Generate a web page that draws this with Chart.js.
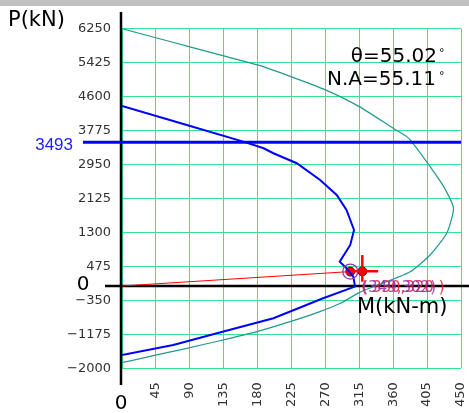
<!DOCTYPE html>
<html><head><meta charset="utf-8">
<script src="https://cdn.jsdelivr.net/npm/chart.js@4"></script>
<style>
html,body{margin:0;padding:0;background:#fff;overflow:hidden}
#wrap{position:absolute;left:0;top:0;width:469px;height:413px}
#band{position:absolute;left:0;top:0;width:469px;height:6px;background:#c0c0c0}
</style></head><body>
<div id="wrap"><canvas id="c" width="469" height="413"></canvas></div>
<div id="band"></div>
<script>
// ---- data ----
const xTickValues = [0,45,90,135,180,225,270,315,360,405,450];
const yTickValues = [-2000,-1175,-350,475,1300,2125,2950,3775,4600,5425,6250];
const nominalM = [0,45,90,135,180,225,270,315,360,378,385,409,427,440,431,409,382,336,316,290,260,223,179,130,86,40,0];
const nominalP = [6250,6030,5810,5590,5370,5080,4763,4357,3832,3628,3492,2900,2413,1888,1281,753,340,0,-150,-420,-640,-867,-1110,-1330,-1514,-1700,-1864];
const designM = [0,86,161,188,201,232,263,285,298,308,303,289,298,307,309,309,267,201,126,68,0];
const designP = [4374,3912,3506,3346,3225,2982,2576,2211,1847,1361,996,590,430,226,24,-17,-299,-785,-1150,-1434,-1677];
const loadLineM = [0,303];
const loadLineP = [0,350];
const pointM = [303,319];
const pointP = [350,355];
const crossVM = [319,319];
const crossVP = [100,750];
const crossHM = [306,340];
const crossHP = [355,355];
const maxAxial = 3493;
const thetaText = 'θ=55.02';
const naText = 'N.A=55.11';
const labelPurple = '(349,302)';
const labelRed = '( 330,320 )';

const zip = (a,b)=>a.map((v,i)=>({x:v,y:b[i]}));
const FONT = '"DejaVu Sans", sans-serif';
const GRID = '#33e68c';

const overlay = {
  id:'overlay',
  beforeDatasetsDraw(chart){
    const {ctx, chartArea:a, scales:{x,y}} = chart;
    ctx.save();
    ctx.strokeStyle = '#000';
    ctx.lineWidth = 2.5;
    const x0 = x.getPixelForValue(0) - 1;
    ctx.beginPath(); ctx.moveTo(x0, 12); ctx.lineTo(x0, 385); ctx.stroke();
    const y0 = y.getPixelForValue(0);
    ctx.beginPath(); ctx.moveTo(105, y0); ctx.lineTo(469, y0); ctx.stroke();
    ctx.restore();
  },
  afterDatasetsDraw(chart){
    const {ctx, chartArea:a, scales:{x,y}} = chart;
    ctx.save();
    const yb = y.getPixelForValue(maxAxial);
    ctx.strokeStyle = '#0000ff'; ctx.lineWidth = 3;
    ctx.beginPath(); ctx.moveTo(a.left - 39, yb); ctx.lineTo(a.right, yb); ctx.stroke();
    ctx.fillStyle = '#2020ff'; ctx.font = '17px "Liberation Sans", Arial, sans-serif';
    ctx.textAlign = 'right'; ctx.textBaseline = 'middle';
    ctx.fillText(String(maxAxial), 73, yb + 3);

    const px = x.getPixelForValue(pointM[0]), py = y.getPixelForValue(pointP[0]);
    ctx.strokeStyle = '#9933aa'; ctx.lineWidth = 1.3;
    ctx.beginPath(); ctx.arc(px, py, 7.5, 0, Math.PI*2); ctx.stroke();

    ctx.font = '15px ' + FONT; ctx.textAlign = 'left'; ctx.textBaseline = 'alphabetic';
    ctx.fillStyle = 'rgba(230,30,60,0.9)';
    ctx.fillText(labelRed, px + 11, py + 20);
    ctx.fillStyle = 'rgba(150,40,170,0.85)';
    ctx.fillText(labelPurple, px + 12, py + 20);

    ctx.fillStyle = '#000';
    ctx.font = '21px ' + FONT;
    ctx.textAlign = 'left';
    ctx.fillText('P(kN)', 8, 26);
    ctx.fillText('M(kN-m)', 357, 313);
    ctx.font = '20px ' + FONT;
    ctx.textAlign = 'center'; ctx.textBaseline = 'middle';
    ctx.fillText('0', 83, y.getPixelForValue(0) - 1);
    ctx.fillText('0', x.getPixelForValue(0) - 1, 404);
    ctx.textAlign = 'right'; ctx.textBaseline = 'alphabetic';
    ctx.font = '20px ' + FONT;
    ctx.fillText(thetaText, 437, 62);
    ctx.fillText(naText, 436, 85);
    ctx.font = '11px ' + FONT; ctx.textAlign = 'left';
    ctx.fillText('°', 439, 56);
    ctx.fillText('°', 439, 79);
    ctx.restore();
  }
};

new Chart(document.getElementById('c'), {
  type:'scatter',
  data:{datasets:[
    {data:zip(nominalM,nominalP), showLine:true, borderColor:'#1f9a8c', borderWidth:1.2, pointRadius:0, tension:0.2},
    {data:zip(designM,designP), showLine:true, borderColor:'#0000ff', borderWidth:2, pointRadius:0, tension:0},
    {data:zip(loadLineM,loadLineP), showLine:true, borderColor:'#ff0000', borderWidth:1, pointRadius:0},
    {data:zip(crossVM,crossVP), showLine:true, borderColor:'#ff0000', borderWidth:2.5, pointRadius:0},
    {data:zip(crossHM,crossHP), showLine:true, borderColor:'#ff0000', borderWidth:2.5, pointRadius:0},
    {data:zip(pointM,pointP), showLine:false, pointRadius:4.5, pointBackgroundColor:'#ff0000', pointBorderColor:'#600000', pointBorderWidth:1}
  ]},
  options:{
    responsive:false, animation:false, devicePixelRatio:1,
    layout:{padding:{top:28.7, right:8, left:0, bottom:0}},
    plugins:{legend:{display:false}, tooltip:{enabled:false}},
    scales:{
      x:{type:'linear', min:0, max:450,
        afterBuildTicks(s){ s.ticks = xTickValues.map(v=>({value:v})); },
        afterFit(s){ s.height = 413 - 368.3; s.paddingLeft = 0; s.paddingRight = 0; },
        grid:{color:GRID, lineWidth:1, drawTicks:false},
        border:{display:false},
        ticks:{autoSkip:false, minRotation:90, maxRotation:90, padding:14, color:'#333', font:{family:FONT, size:13},
          callback:v=> v===0 ? '' : String(v)}
      },
      y:{type:'linear', min:-2000, max:6250,
        afterBuildTicks(s){ s.ticks = yTickValues.map(v=>({value:v})); },
        afterFit(s){ s.width = 122; s.paddingTop = 0; s.paddingBottom = 0; },
        grid:{color:GRID, lineWidth:1, drawTicks:false},
        border:{display:false},
        ticks:{autoSkip:false, padding:11, color:'#333', font:{family:FONT, size:13},
          callback:v=> String(v).replace('-', '−')}
      }
    }
  },
  plugins:[overlay]
});
</script>
</body></html>
